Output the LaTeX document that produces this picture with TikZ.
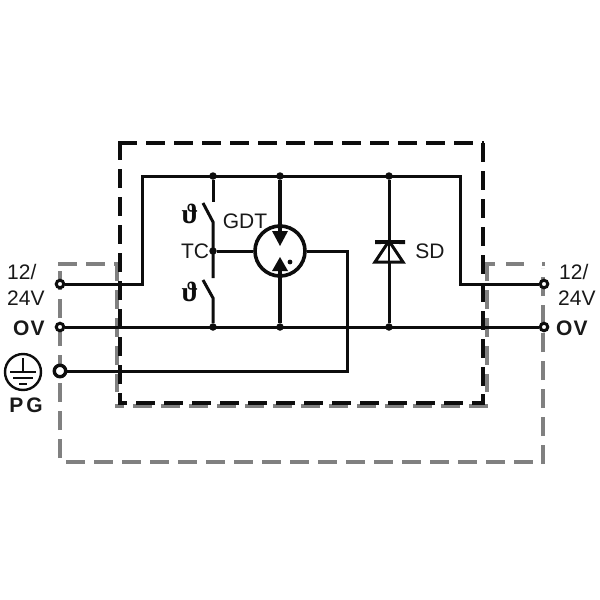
\documentclass[tikz,border=0pt]{standalone}
\usepackage{fontspec}
\setmainfont{Liberation Sans}
\newfontfamily\thetafont{Liberation Serif}
\tikzset{
  wire/.style={line width=3pt,black!95,line join=miter},
  thickwire/.style={line width=4pt,black!95},
  blackdash/.style={line width=4pt,black!95,dash pattern=on 19pt off 9pt},
  blackphase/.style={line width=4pt,black!95,dash pattern=on 19pt off 9pt,dash phase=10pt},
  graydash/.style={line width=4.5pt,black!50,dash pattern=on 19pt off 9pt},
  grayphase/.style={line width=4.5pt,black!50,dash pattern=on 19pt off 9pt,dash phase=10pt},
  junction/.style={circle,fill=black!95,inner sep=0pt,minimum size=7.5pt},
  terminal/.style={circle,draw=black!95,fill=white,line width=3pt,inner sep=0pt,minimum size=7.5pt},
  bigterminal/.style={circle,draw=black!95,fill=white,line width=3.4pt,inner sep=0pt,minimum size=11.5pt},
  lbl/.style={inner sep=0pt,font=\fontsize{21}{21}\selectfont,black!90},
  blbl/.style={inner sep=0pt,font=\fontsize{21}{21}\selectfont\bfseries,black!90},
  thetalbl/.style={inner sep=0pt,font=\fontsize{28}{28}\selectfont\thetafont\bfseries,black!95},
}
\begin{document}
\begin{tikzpicture}[x=1pt,y=-1pt]
\useasboundingbox (0,0) rectangle (600,600);
\fill[white] (0,0) rectangle (600,600);
% gray dashed outline
\draw[graydash] (60,458) -- (60,266);
\draw[graydash] (58,264) -- (117,264);
\draw[graydash] (66,462) -- (536,462);
\draw[graydash] (543,464) -- (543,268);
\draw[line width=4.5pt,black!50,dash pattern=on 9pt off 11pt on 18pt off 18pt on 5pt] (486,264) -- (545,264);
\draw[graydash] (117,262) -- (117,392);
\draw[graydash] (487,262) -- (487,392);
\draw[grayphase] (115,406) -- (489,406);
% black dashed box
\draw[blackdash] (118,143) -- (484,143);
\draw[blackdash] (120,141) -- (120,405);
\draw[blackdash] (483,143) -- (483,394);
\draw[blackphase] (118,403) -- (485,403);
\draw[line width=4pt,black!95] (483,394) -- (483,405);
% terminals and junctions
\coordinate (topL) at (142,176);
\coordinate (topR) at (460,176);
\coordinate (inL) at (142,284);
\coordinate (inR) at (460,284);
\coordinate (pgA) at (347,371);
\coordinate (pgB) at (347,251);
\node[terminal] (t1) at (60,284) {};
\node[terminal] (t2) at (60,327) {};
\node[bigterminal] (t3) at (60,371) {};
\node[terminal] (t4) at (544,284) {};
\node[terminal] (t5) at (544,327) {};
\node[junction] (j1) at (213,176) {};
\node[junction] (j2) at (280,176) {};
\node[junction] (j3) at (389,176) {};
\node[junction] (j4) at (213,327) {};
\node[junction] (j5) at (280,327) {};
\node[junction] (j6) at (389,327) {};
\node[junction] (j7) at (213,251) {};
\node[circle,draw=black!95,fill=white,line width=3.6pt,inner sep=0pt,minimum size=50pt] (gdt) at (280,251) {};
% wires
\draw[wire] (t1) -- (inL) -- (topL) -- (topR) -- (inR) -- (t4);
\draw[wire] (t2) -- (t5);
\draw[wire] (t3) -- (pgA) -- (pgB) -- (gdt);
\draw[wire] (j7) -- (gdt);
% thermal switches
\coordinate (s1a) at (213,202);
\coordinate (s1b) at (203,203);
\coordinate (s1c) at (213,222);
\coordinate (s2a) at (213,278);
\coordinate (s2b) at (203,280);
\coordinate (s2c) at (213,298);
\draw[wire] (j1) -- (s1a);
\draw[wire] (s1b) -- (s1c) -- (s2a);
\draw[wire] (s2b) -- (s2c) -- (j4);
% GDT arrows
\coordinate (g1) at (280,232);
\coordinate (g2) at (280,270);
\draw[thickwire] (j2) -- (g1);
\draw[thickwire] (j5) -- (g2);
\fill[black!95] (272,231) -- (288,231) -- (280,246) -- cycle;
\fill[black!95] (272,271) -- (288,271) -- (280,257) -- cycle;
\fill[black!95] (290,262) circle (2.4pt);
% suppressor diode
\draw[wire] (j3) -- (j6);
\draw[line width=3pt,draw=black!95,fill=white,line join=miter] (389,241) -- (403,262) -- (375,262) -- cycle;
\draw[line width=4pt,black!95] (375,242) -- (405,242);
\fill[black!95] (375,240) -- (381,244) -- (375,244) -- cycle;
\fill[black!95] (405,240) -- (399,244) -- (405,244) -- cycle;
\draw[line width=2.6pt,black!95] (389,243) -- (389,262);
% earth symbol
\node[circle,draw=black!95,line width=2.4pt,inner sep=0pt,minimum size=36pt] (pe) at (23,372) {};
\coordinate (e0) at (23,358);
\coordinate (e1) at (23,372);
\draw[line width=1.8pt,black!95] (e0) -- (e1);
\draw[line width=2.8pt,black!95] (10,372) -- (36,372);
\draw[line width=2.4pt,black!95] (13,378) -- (33,378);
\draw[line width=1.6pt,black!95] (19,384) -- (27,384);
% labels
\node[lbl,anchor=west] (a1) at (7,272) {12/};
\node[lbl,anchor=west] (a2) at (7,298) {24V};
\node[blbl,anchor=west] (a3) at (13,328) {O\kern1ptV};
\node[blbl,anchor=center] (a4) at (26,405) {P\kern3ptG};
\node[lbl,anchor=west] (b1) at (559,272) {12/};
\node[lbl,anchor=west] (b2) at (558,298) {24V};
\node[blbl,anchor=west] (b3) at (556,328) {O\kern1ptV};
\node[lbl,anchor=center] (c1) at (245,221) {GDT};
\node[lbl,anchor=center] (c2) at (195,251) {TC};
\node[lbl,anchor=center] (c3) at (430,251) {SD};
\node[thetalbl] (th1) at (190,214) {ϑ};
\node[thetalbl] (th2) at (190,292) {ϑ};
\end{tikzpicture}
\end{document}
